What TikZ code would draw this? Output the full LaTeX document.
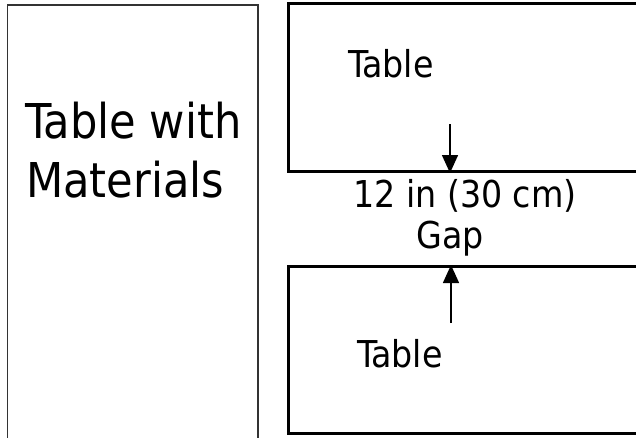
\documentclass[tikz,border=0pt]{standalone}
\usepackage{fontspec}
\setmainfont{DejaVu Sans Condensed}
\usetikzlibrary{arrows.meta,positioning}

\begin{document}
\begin{tikzpicture} [
    x=1pt, y=-1pt,
    table/.style={rectangle, draw=black, line width=3pt, inner sep=0pt},
    sidetable/.style={rectangle, draw=black!80, line width=1.5pt, inner sep=0pt},
    word/.style={inner sep=0pt, font=\fontsize{37}{44}\selectfont},
    bigword/.style={inner sep=0pt, font=\fontsize{48}{56}\selectfont},
    >={Triangle[length=18pt,width=16pt]}
    ]
    \useasboundingbox (0,0) rectangle (636,437);
    %Nodes
    \node[sidetable, minimum width=250.5pt, minimum height=445pt] (mat) at (132.75,227.5) {};
    \node[table, minimum width=362pt, minimum height=168.5pt]    (t1)  at (469,87.25) {};
    \node[table, minimum width=362pt, minimum height=166.5pt]    (t2)  at (469,349.75) {};
    \node[bigword, anchor=base west] (mat1) at (25,138) {Table with};
    \node[bigword, anchor=base west] (mat2) at (26,197) {Materials};
    \node[word, anchor=base west]    (lab1) at (348,77) {Table};
    \node[word, anchor=base west]    (lab2) at (357,367) {Table};
    \node[word, anchor=base]         (gap1) at (465,207) {12 in (30 cm)};
    \node[word, anchor=base]         (gap2) at (450,248) {Gap};
    \coordinate (down) at (450,124);
    \coordinate (up)   at (451,323);
    %Lines
    \draw[->, line width=1.5pt] (down) -- (down |- t1.south);
    \draw[->, line width=1.5pt] (up) -- (up |- t2.north);
\end{tikzpicture}
\end{document}
